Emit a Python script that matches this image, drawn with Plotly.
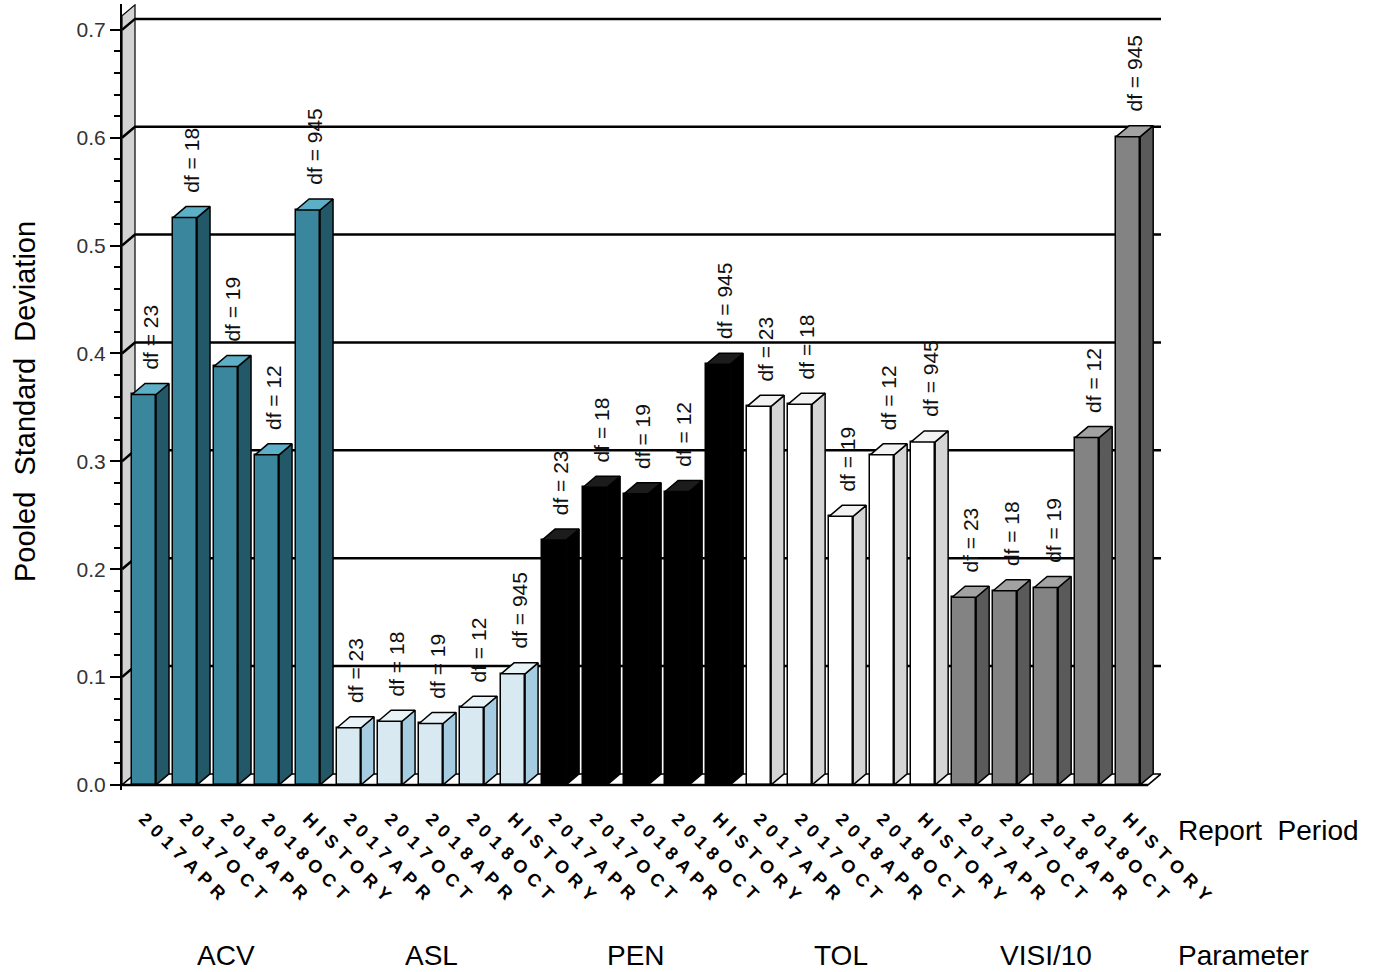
import plotly.graph_objects as go

# ---------------- data ----------------
parameters = ["ACV", "ASL", "PEN", "TOL", "VISI/10"]
periods = ["2017APR", "2017OCT", "2018APR", "2018OCT", "HISTORY"]
df_values = [23, 18, 19, 12, 945]

acv = [0.362, 0.526, 0.388, 0.306, 0.533]
asl = [0.053, 0.059, 0.057, 0.072, 0.103]
pen = [0.227, 0.276, 0.270, 0.272, 0.390]
tol = [0.351, 0.353, 0.249, 0.306, 0.318]
visi = [0.174, 0.180, 0.183, 0.322, 0.601]
series = [acv, asl, pen, tol, visi]

y_ticks = [0.0, 0.1, 0.2, 0.3, 0.4, 0.5, 0.6, 0.7]

# ---------------- style ----------------
front_colors = ["#3a879d", "#d8e9f2", "#000000", "#ffffff", "#838383"]
side_colors = ["#235868", "#a5cce0", "#000000", "#d5d5d5", "#5a5a5a"]
top_colors = ["#5cafc7", "#e8f3f8", "#1c1c1c", "#f2f2f2", "#a2a2a2"]

W = 0.585      # front face width (x units)
DX = 0.317     # depth offset x (x units)
DY = 0.0102    # depth offset y (y units)
XL, XR = -0.537, 24.80
YL, YT = -0.0047, 0.724
FONT = "Liberation Sans, Arial, sans-serif"

fig = go.Figure()

# front faces
xs, ys, fcols, tlabels = [], [], [], []
for g, vals in enumerate(series):
    for p, v in enumerate(vals):
        xs.append(g * len(periods) + p)
        ys.append(v)
        fcols.append(front_colors[g])
        tlabels.append("\u2004".join(periods[p]))

fig.add_trace(go.Bar(x=xs, y=ys, width=W, marker=dict(color=fcols, line=dict(color="black", width=1.5)),
                     showlegend=False, hoverinfo="skip"))

# side and top faces
for g, vals in enumerate(series):
    sx, sy, tx, ty = [], [], [], []
    for p, v in enumerate(vals):
        i = g * len(periods) + p
        r = i + W / 2
        l = i - W / 2
        sx += [r, r + DX, r + DX, r, r, None]
        sy += [0, DY, v + DY, v, 0, None]
        tx += [l, l + DX, r + DX, r, l, None]
        ty += [v, v + DY, v + DY, v, v, None]
    fig.add_trace(go.Scatter(x=sx, y=sy, mode="lines", fill="toself", fillcolor=side_colors[g],
                             line=dict(color="black", width=1.5), showlegend=False, hoverinfo="skip"))
    fig.add_trace(go.Scatter(x=tx, y=ty, mode="lines", fill="toself", fillcolor=top_colors[g],
                             line=dict(color="black", width=1.5), showlegend=False, hoverinfo="skip"))

shapes = []
# left wall
wall_top = 0.713
shapes.append(dict(type="path", layer="below", xref="x", yref="y",
                   path=f"M {XL},0 L {XL+DX},{DY} L {XL+DX},{wall_top+DY} L {XL},{wall_top} Z",
                   fillcolor="#d3d3d3", line=dict(color="black", width=1.2)))
# floor
shapes.append(dict(type="path", layer="below", xref="x", yref="y",
                   path=f"M {XL},0 L {XR-DX},0 L {XR},{DY} L {XL+DX},{DY} Z",
                   fillcolor="white", line=dict(color="black", width=1.5)))
shapes.append(dict(type="line", layer="above", xref="x", yref="y", x0=XL, x1=XR - DX, y0=0, y1=0,
                   line=dict(color="black", width=2.5)))
# gridlines on back wall
for t in y_ticks[1:]:
    shapes.append(dict(type="path", layer="below", xref="x", yref="y",
                       path=f"M {XL},{t} L {XL+DX},{t+DY} L {XR},{t+DY}",
                       line=dict(color="black", width=2.5)))

annotations = []
# df labels
for g, vals in enumerate(series):
    for p, v in enumerate(vals):
        i = g * len(periods) + p
        annotations.append(dict(x=i + DX / 2, y=v + DY + 0.011, xref="x", yref="y",
                                text=f"df = {df_values[p]}", textangle=-90, showarrow=False,
                                xanchor="center", yanchor="bottom",
                                font=dict(family=FONT, size=21, color="#111")))

PW = 1377 - 122 - 216
PH = 972 - 4 - 182


def px(xp):
    return (xp - 122) / PW


def py(yp):
    return (790 - yp) / PH


for g, name in enumerate(parameters):
    annotations.append(dict(x=g * len(periods) + 2, y=py(955), xref="x", yref="paper", text=name,
                            showarrow=False, xanchor="center", yanchor="middle",
                            font=dict(family=FONT, size=28, color="black")))
annotations.append(dict(x=px(1176), y=py(955), xref="paper", yref="paper", text="Parameter",
                        showarrow=False, xanchor="left", yanchor="middle",
                        font=dict(family=FONT, size=28, color="black")))
annotations.append(dict(x=px(1176), y=py(830), xref="paper", yref="paper", text="Report\u00a0\u00a0Period",
                        showarrow=False, xanchor="left", yanchor="middle",
                        font=dict(family=FONT, size=28, color="black")))
annotations.append(dict(x=px(25), y=py(402), xref="paper", yref="paper", text="Pooled\u00a0\u00a0Standard\u00a0\u00a0Deviation",
                        textangle=-90, showarrow=False, xanchor="center", yanchor="middle",
                        font=dict(family=FONT, size=29, color="black")))

minor_vals = [round(k * 0.02, 2) for k in range(1, 36) if k % 5 != 0]

fig.update_layout(
    width=1377, height=972,
    margin=dict(l=122, r=216, t=4, b=182, autoexpand=False),
    paper_bgcolor="white", plot_bgcolor="white",
    shapes=shapes, annotations=annotations,
    bargap=0,
    xaxis=dict(range=[XL, XR], tickmode="array", tickvals=xs, ticktext=tlabels, tickangle=45,
               showgrid=False, zeroline=False, showline=False, ticks="", automargin=False,
               ticklabelstandoff=14,
               tickfont=dict(family=FONT, size=18, color="black", weight="bold")),
    yaxis=dict(range=[YL, YT], tickmode="array", tickvals=y_ticks, tickformat=".1f", automargin=False,
               showgrid=False, zeroline=False, showline=True, linecolor="black", linewidth=2,
               ticks="outside", ticklen=10, tickwidth=2, tickcolor="black",
               minor=dict(tickvals=minor_vals, ticks="outside", ticklen=6, tickwidth=2, tickcolor="black"),
               tickfont=dict(family=FONT, size=21, color="#333")),
)

fig.write_html("out.html", config={"displayModeBar": False},
               post_script="document.body.style.margin='0px';")
